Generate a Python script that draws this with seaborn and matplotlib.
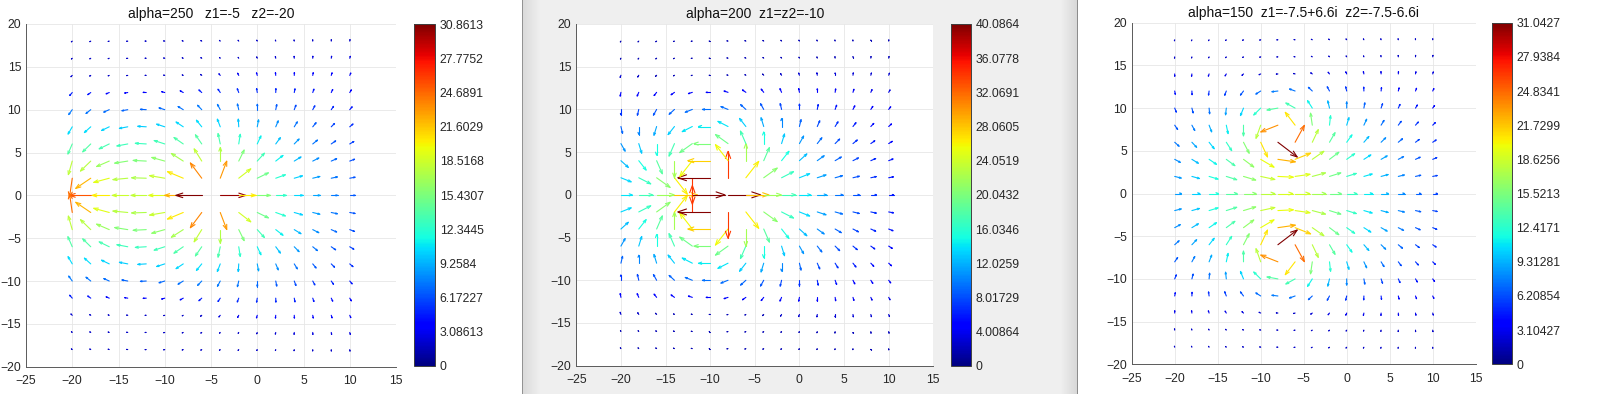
import numpy as np
import matplotlib
matplotlib.use("Agg")
import matplotlib.pyplot as plt
import seaborn as sns
from matplotlib.collections import LineCollection
from matplotlib.colors import Normalize
from matplotlib import cm

# ---------------- data ----------------
titles = ["alpha=250   z1=-5   z2=-20",
          "alpha=200  z1=z2=-10",
          "alpha=150  z1=-7.5+6.6i  z2=-7.5-6.6i"]
alphas = [250, 200, 150]
z1_values = [-5 + 0j, -10 + 0j, -7.5 + 6.6j]
z2_values = [-20 + 0j, -10 + 0j, -7.5 - 6.6j]
grid_x = [-20, -18, -16, -14, -12, -10, -8, -6, -4, -2, 0, 2, 4, 6, 8, 10]
grid_y = [-18, -16, -14, -12, -10, -8, -6, -4, -2, 0, 2, 4, 6, 8, 10, 12, 14, 16, 18]
cbar_max = [30.8613, 40.0864, 31.0427]
cbar_labels = [
    ["0", "3.08613", "6.17227", "9.2584", "12.3445", "15.4307", "18.5168",
     "21.6029", "24.6891", "27.7752", "30.8613"],
    ["0", "4.00864", "8.01729", "12.0259", "16.0346", "20.0432", "24.0519",
     "28.0605", "32.0691", "36.0778", "40.0864"],
    ["0", "3.10427", "6.20854", "9.31281", "12.4171", "15.5213", "18.6256",
     "21.7299", "24.8341", "27.9384", "31.0427"],
]
xticks = [-25, -20, -15, -10, -5, 0, 5, 10, 15]
yticks = [-20, -15, -10, -5, 0, 5, 10, 15, 20]

# ---------------- style ----------------
sns.set_style("white")
plt.rcParams["font.family"] = ["Liberation Sans", "DejaVu Sans"]
W, H = 1621, 394
fig = plt.figure(figsize=(W / 100, H / 100), dpi=100, facecolor="white")

# background (middle window is a grey screenshot frame)
col = np.ones(W)
col[522] = 0.58
col[523:541] = np.linspace(0.86, 0.94, 18)
col[541:1060] = 0.94
col[1060:1077] = np.linspace(0.94, 0.85, 17)
col[1077] = 0.55
bg = np.tile(col[None, :, None], (2, 1, 3))
axbg = fig.add_axes([0, 0, 1, 1], zorder=-5)
axbg.imshow(bg, aspect="auto", extent=(0, 1, 0, 1), interpolation="nearest")
axbg.axis("off")

# layout in pixels: (left, right, top, bottom) for axes and colorbars
ax_px = [(26, 396, 24, 366.7), (576.3, 933.3, 24, 365.7), (1131.7, 1475.7, 22.7, 364.3)]
cb_px = [(414, 435, 24, 366), (950.7, 970.7, 24, 366), (1492.3, 1511.7, 22.7, 364.3)]


def frac(p):
    l, r, t, b = p
    return [l / W, 1 - b / H, (r - l) / W, (b - t) / H]


dark = "#262626"
len_per_unit = 0.091
min_draw_level = 1.3      # smallest drawn arrow (renders as a dot, like the reference)
head_back = 0.27
head_half = 0.095

XX, YY = np.meshgrid(np.array(grid_x, float), np.array(grid_y, float))
S = XX + 1j * YY


def level_db(Hs, q):
    return 20 * np.log10(np.abs(1 + q * Hs))


for i in range(3):
    ax = fig.add_axes(frac(ax_px[i]))
    ax.set_facecolor("white")
    denom = (S - z1_values[i]) * (S - z2_values[i])
    with np.errstate(divide="ignore", invalid="ignore"):
        Hs = np.where(np.abs(denom) > 1e-12, 1.0 / denom, np.nan)
    # gain q chosen so that the largest level equals the colorbar maximum
    lo, hi = 1.0, 5000.0
    for _ in range(80):
        mid = 0.5 * (lo + hi)
        if np.nanmax(level_db(Hs, mid)) < cbar_max[i]:
            lo = mid
        else:
            hi = mid
    M = np.clip(level_db(Hs, 0.5 * (lo + hi)), 0.0, None)
    mag = np.abs(Hs)
    ux = np.real(Hs) / mag
    uy = -np.imag(Hs) / mag
    L = len_per_unit * np.maximum(M, min_draw_level)
    U = ux * L
    V = uy * L
    norm = Normalize(0, cbar_max[i])
    cmap = plt.get_cmap("jet")
    segs, cols = [], []
    for x0, y0, u, v, m in zip(XX.ravel(), YY.ravel(), U.ravel(), V.ravel(), M.ravel()):
        if not np.isfinite(m):
            continue
        tx, ty = x0 + u, y0 + v
        bx, by = tx - head_back * u, ty - head_back * v
        px, py = -v * head_half, u * head_half
        c = cmap(norm(max(m, 2.0)))
        segs.append([(x0, y0), (tx, ty)])
        segs.append([(bx + px, by + py), (tx, ty), (bx - px, by - py)])
        cols += [c, c]
    lc = LineCollection(segs, colors=cols, linewidths=0.8, zorder=3,
                        capstyle="round", joinstyle="round")
    ax.add_collection(lc)

    ax.set_xlim(-25, 15)
    ax.set_ylim(-20, 20)
    ax.set_xticks(xticks)
    ax.set_yticks(yticks)
    ax.grid(True, color="#e6e6e6", linewidth=0.6, zorder=0)
    ax.set_axisbelow(True)
    for s in ["top", "right"]:
        ax.spines[s].set_visible(False)
    for s in ["left", "bottom"]:
        ax.spines[s].set_color("#5a5a5a")
        ax.spines[s].set_linewidth(0.7)
    ax.tick_params(direction="in", length=3, width=0.6, color="#5a5a5a",
                   labelsize=8.8, labelcolor=dark)
    ax.tick_params(axis="x", pad=6)
    ax.tick_params(axis="y", pad=3.5)
    ax.set_title(titles[i], fontsize=10, color="#111111", pad=4)

    cax = fig.add_axes(frac(cb_px[i]))
    sm = cm.ScalarMappable(norm=norm, cmap=cmap)
    cb = fig.colorbar(sm, cax=cax)
    cb.set_ticks(np.linspace(0, cbar_max[i], 11))
    cb.set_ticklabels(cbar_labels[i])
    cb.outline.set_edgecolor("#404040")
    cb.outline.set_linewidth(0.7)
    cax.tick_params(direction="in", length=3, width=0.6, color="#404040",
                    labelsize=8.8, labelcolor=dark, pad=3.5)

fig.savefig("out.png", dpi=100, facecolor="white")
